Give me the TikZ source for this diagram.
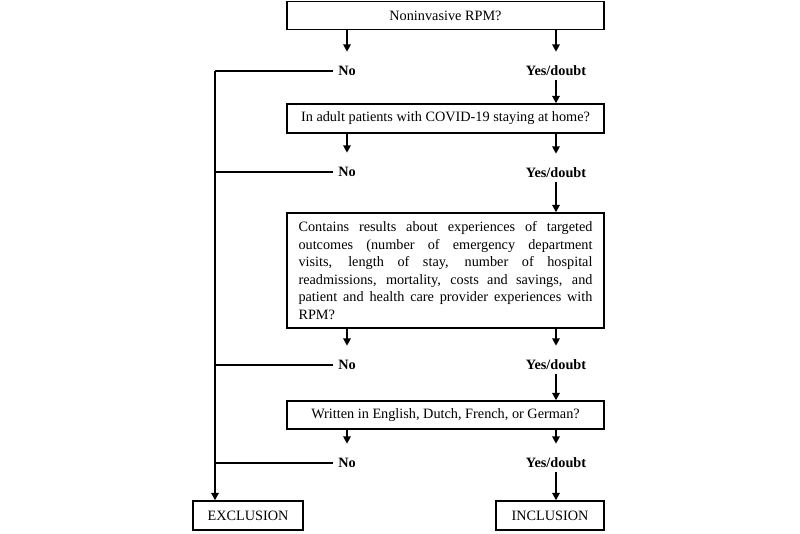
\documentclass[tikz,border=0pt]{standalone}
\usepackage{fontspec}
\setmainfont{Liberation Serif}
\usetikzlibrary{arrows.meta}
\begin{document}
\begin{tikzpicture}[x=0.75pt,y=-0.75pt,
  font=\fontsize{10.7}{13.2}\selectfont,
  box/.style={draw,line width=1.1pt,inner sep=0pt,minimum width=237.75pt,minimum height=21pt,align=center},
  bigbox/.style={draw,line width=1.1pt,inner xsep=8.625pt,inner ysep=0pt,text width=220.5pt,minimum height=86.25pt,align=justify},
  endbox/.style={draw,line width=1.1pt,inner sep=0pt,minimum height=21.75pt},
  lbl/.style={font=\fontsize{10.7}{13.2}\selectfont\bfseries,inner xsep=3.5pt,inner ysep=0pt,minimum height=13.5pt},
  arr/.style={line width=1.5pt,-{Triangle[length=5.5pt,width=5.5pt]}},
  arrl/.style={arr,shorten >=7.5pt},
  ln/.style={line width=1.5pt}
]
\useasboundingbox (0,0) rectangle (800,533);
% boxes
\node[box,minimum height=21pt] (b1) at (445.5,15.5) {Noninvasive RPM?};
\node[box,minimum height=21.75pt] (b2) at (445.5,118.5) {In adult patients with COVID-19 staying at home?};
\node[bigbox] (b3) at (445.5,270.5) {Contains results about experiences of targeted\linebreak outcomes (number of emergency department\linebreak visits, length of stay, number of hospital\linebreak readmissions, mortality, costs and savings, and\linebreak patient and health care provider experiences with\linebreak RPM?};
\node[box,minimum height=21pt] (b4) at (445.5,415) {Written in English, Dutch, French, or German?};
\node[endbox,minimum width=82.5pt] (excl) at (248,515.5) {EXCLUSION};
\node[endbox,minimum width=81pt] (incl) at (550,515.5) {INCLUSION};
% labels
\node[lbl] (no1) at (347,71) {No};
\node[lbl] (yes1) at (556,71) {Yes/doubt};
\node[lbl] (no2) at (347,172) {No};
\node[lbl] (yes2) at (556,173) {Yes/doubt};
\node[lbl] (no3) at (347,365) {No};
\node[lbl] (yes3) at (556,365) {Yes/doubt};
\node[lbl] (no4) at (347,463) {No};
\node[lbl] (yes4) at (556,463) {Yes/doubt};
\coordinate (bus) at (215,71);
% arrows from boxes to labels
\draw[arrl] (b1.south -| no1) -- (no1.north);
\draw[arrl] (b1.south -| yes1) -- (yes1.north);
\draw[arrl] (b2.south -| no2) -- (no2.north);
\draw[arrl] (b2.south -| yes2) -- (yes2.north);
\draw[arrl] (b3.south -| no3) -- (no3.north);
\draw[arrl] (b3.south -| yes3) -- (yes3.north);
\draw[arrl] (b4.south -| no4) -- (no4.north);
\draw[arrl] (b4.south -| yes4) -- (yes4.north);
% yes to next
\draw[arr] (yes1.south) -- (yes1.south |- b2.north);
\draw[arr] (yes2.south) -- (yes2.south |- b3.north);
\draw[arr] (yes3.south) -- (yes3.south |- b4.north);
\draw[arr] (yes4.south) -- (yes4.south |- incl.north);
% no to exclusion bus
\draw[ln] (no1.west) -- (no1.west -| bus);
\draw[ln] (no2.west) -- (no2.west -| bus);
\draw[ln] (no3.west) -- (no3.west -| bus);
\draw[ln] (no4.west) -- (no4.west -| bus);
\draw[arr] (bus) -- (bus |- excl.north);
\end{tikzpicture}
\end{document}
